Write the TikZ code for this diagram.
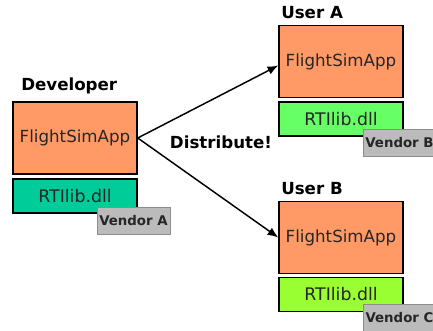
\documentclass[tikz,border=0pt]{standalone}
\usepackage{fontspec}
\setmainfont{DejaVu Sans}
\usepackage{tikz}
\usetikzlibrary{
  positioning,
  arrows.meta,
  arrows
}
\usepackage{xcolor}
\definecolor{appcol}{RGB}{255,153,102}
\definecolor{libA}{RGB}{0,204,153}
\definecolor{libB}{RGB}{102,255,102}
\definecolor{libC}{RGB}{153,255,51}
\definecolor{vendfill}{RGB}{187,187,187}
\definecolor{vendline}{RGB}{140,140,140}

\begin{document}
\begin{tikzpicture}[x=0.75pt,y=-0.75pt,>={Latex[length=8pt,width=6.5pt]},
    appbox/.style={draw=black,line width=1.1pt,fill=appcol,minimum width=93pt,minimum height=54pt,inner sep=0pt,font=\fontsize{12.5}{15}\selectfont,text=black!85},
    libbox/.style={draw=black,line width=1.1pt,minimum width=93pt,minimum height=25.5pt,inner sep=0pt,font=\fontsize{13}{15}\selectfont,text=black!85},
    vendbox/.style={draw=vendline,line width=0.6pt,fill=vendfill,minimum width=54.75pt,minimum height=20.25pt,inner sep=0pt,font=\fontsize{10}{12}\selectfont\bfseries,text=black!85},
    who/.style={font=\fontsize{12.5}{14}\selectfont\bfseries,anchor=west,inner sep=0pt}]
            \useasboundingbox (0,0) rectangle (433,331);
            \clip (0,0) rectangle (433,331);

            % developer
            \node[who] (devlbl) at (21,86) {Developer};
            \node[appbox] (dev) at (75,138) {FlightSimApp};
            \node[libbox,fill=libA] (devlib) at (75,196) {RTIlib.dll};
            \node[vendbox] (venA) at (133.5,220.5) {Vendor A};

            % user A
            \node[who] (usrAlbl) at (281,13) {User A};
            \node[appbox] (appA) at (341,61.5) {FlightSimApp};
            \node[libbox,fill=libB] (libA) at (341,119) {RTIlib.dll};
            \node[vendbox] (venB) at (399.5,142.5) {Vendor B};

            % user B
            \node[who] (usrBlbl) at (281,189) {User B};
            \node[appbox] (appB) at (341,237.5) {FlightSimApp};
            \node[libbox,fill=libC] (libB) at (341,294.5) {RTIlib.dll};
            \node[vendbox] (venC) at (399.5,317.5) {Vendor C};

            \node[font=\fontsize{12.5}{14}\selectfont\bfseries] (dist) at (221,142) {Distribute!};

            \draw[->,line width=1.1pt] (dev.east) -- ([yshift=-3pt]appA.west);
            \draw[->,line width=1.1pt] (dev.east) -- (appB.west);
        \end{tikzpicture}
\end{document}
